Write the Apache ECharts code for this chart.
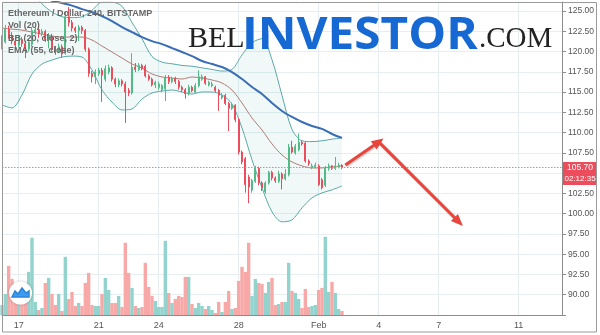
<!DOCTYPE html>
<html><head><meta charset="utf-8">
<script src="https://cdn.jsdelivr.net/npm/echarts@6/dist/echarts.min.js"></script>
<style>html,body{margin:0;padding:0;background:#fff}#c{width:600px;height:335px}</style>
</head><body><div id="c"></div>
<script>
// ---- time slots (4h candles), Jan 16 04:00 .. Feb 13 04:00 (2019)
const slotStart = Date.UTC(2019, 0, 16, 4);
const slotCount = 169;
const tickCats  = ['01-17 00','01-21 00','01-24 00','01-28 00','02-01 00','02-04 00','02-07 00','02-11 00'];
const tickTexts = ['17','21','24','28','Feb','4','7','11'];
const priceTicks = [90,92.5,95,97.5,100,102.5,105,107.5,110,112.5,115,117.5,120,122.5,125];

// ---- candles (ETH/USD, 240)
const open = [120.6,121.2,122.8,122.0,121.3,120.8,121.5,121.0,120.3,120.9,
122.4,122.7,122.2,122.5,121.5,121.8,120.3,120.0,120.6,119.8,
124.3,123.6,122.9,122.6,123.0,122.6,120.3,117.3,116.9,117.3,
117.7,116.6,117.5,118.0,116.6,115.9,116.4,116.0,115.2,114.9,
118.1,117.8,118.3,118.2,117.0,116.6,115.9,115.6,115.3,115.4,
116.8,116.3,116.7,116.3,115.6,115.3,114.8,115.6,115.0,115.8,
116.6,116.9,115.9,115.8,115.6,115.2,114.3,114.6,113.6,113.0,
113.4,111.6,107.6,106.8,104.5,102.9,104.0,105.6,103.8,102.7,
103.8,105.1,104.4,104.0,104.9,104.3,104.8,108.2,107.5,107.9,
108.8,108.7,106.5,105.7,105.8,105.9,104.2,103.5,105.6,105.9,
105.6,105.8,106.0];
const close = [121.4,122.8,122.0,121.3,120.8,121.5,121.0,120.3,121.2,122.6,
122.7,122.2,122.5,121.5,121.9,120.3,120.0,120.6,119.7,124.3,
123.6,122.9,122.6,123.0,122.6,120.3,117.3,116.9,117.5,117.7,
117.1,117.9,118.0,116.6,116.0,116.4,116.0,115.0,114.9,118.1,
117.8,118.3,117.9,117.0,116.6,115.9,116.2,116.0,115.8,116.8,
116.3,116.7,116.3,115.6,115.3,114.8,115.6,115.2,115.8,116.9,
116.9,116.1,116.2,116.0,115.2,114.6,114.6,113.6,113.0,113.4,
111.6,107.6,106.4,103.6,103.3,104.1,105.6,103.8,103.2,103.8,
105.1,104.4,104.1,104.9,104.3,104.9,108.2,107.6,108.3,108.8,
108.6,106.5,106.2,105.9,106.0,103.6,103.2,105.6,105.9,105.6,
105.9,106.0,105.7];
const high = [122.0,123.3,123.2,122.4,121.7,121.9,121.8,121.3,121.6,123.0,
123.0,122.9,122.8,122.7,122.3,122.2,120.7,121.0,120.9,124.9,
125.5,123.9,123.1,123.3,123.2,122.8,120.5,117.6,117.8,118.0,
118.0,118.3,118.4,118.2,116.8,116.7,116.6,116.3,115.5,119.8,
118.6,118.6,118.5,118.4,117.2,116.8,116.4,116.3,116.0,117.1,
117.1,116.9,116.9,116.5,115.8,115.5,115.9,115.8,116.1,117.7,
117.2,117.0,116.4,116.3,115.8,115.4,114.9,114.8,113.8,113.7,
113.5,111.8,107.8,107.0,104.8,104.3,105.9,105.8,104.0,104.0,
105.3,105.3,104.6,105.3,105.1,105.5,108.6,109.0,108.6,109.9,
109.0,108.9,106.7,106.2,106.3,106.1,104.4,105.9,106.2,106.0,
107.0,106.3,106.1];
const low = [120.3,121.0,121.6,120.9,120.2,120.5,120.6,119.2,120.0,120.6,
122.1,121.7,121.9,121.2,120.4,120.0,119.6,119.8,119.3,119.6,
123.1,122.5,122.3,121.3,122.2,120.0,116.9,116.2,116.0,117.0,
113.8,116.3,117.2,116.3,115.6,115.6,115.7,111.2,114.5,114.7,
117.5,117.6,117.7,116.8,116.4,115.7,115.5,115.3,115.0,113.9,
116.0,116.1,116.0,115.3,115.0,114.2,114.6,115.0,114.8,115.6,
116.4,115.9,115.7,115.6,115.0,112.7,114.1,113.4,110.2,112.8,
111.3,107.3,106.1,102.6,101.3,102.6,103.8,103.5,102.8,102.5,
103.6,104.1,103.8,103.8,103.0,104.1,104.6,107.4,107.3,107.7,
108.4,106.3,105.9,105.5,105.6,103.4,103.0,103.3,105.3,105.4,
105.4,105.6,105.5];
const volume = [10,21,49,36,20,15,12,15,43,77, 13,5,7,32,37,21,10,21,4,58,
16,23,9,12,9,32,42,10,9,9, 21,37,25,12,12,19,8,72,42,27,
9,7,8,52,28,19,14,8,8,74, 22,12,16,19,18,38,38,11,7,12,
9,6,9,5,2,13,3,13,24,6, 7,34,48,43,72,19,36,32,31,22,
33,37,10,11,13,13,52,24,22,16, 7,26,8,9,10,25,27,78,23,33,
22,6,4];

const bandIdx = [0,3,6,9,12,15,18,21,24,27,30,33,36,39,42,45,48,51,54,57,60,63,66,69,72,75,78,81,84,87,90,93,96,99,102];
const bbUpper = [132.4,132.5,130.7,127.6,125.9,124.9,124.3,124.2,124.3,125.1,126.1,126.1,125.6,123.6,121.6,119.4,118.7,118.5,118.3,118.2,118.0,117.8,117.6,117.8,119.6,121.1,121.6,119.0,114.6,110.4,109.0,108.9,109.0,109.2,109.35];
const bbBasis = [122.90,122.78,122.66,122.41,122.17,121.92,121.80,121.80,121.80,121.43,120.69,119.95,119.21,118.47,117.98,117.24,116.87,116.74,116.62,116.87,116.74,116.50,116.13,115.26,113.66,111.81,110.33,108.61,107.25,106.39,105.90,105.65,105.65,105.77,105.90];
const bbLower = [113.42,113.05,114.65,117.24,118.47,118.96,119.33,119.45,119.33,117.73,115.26,113.78,112.80,112.92,114.15,114.89,115.14,115.26,115.02,114.77,115.02,115.02,114.65,113.54,110.58,106.64,103.19,100.23,99.00,99.24,100.72,101.95,102.57,102.94,103.43];
const ema55   = [127.96,127.59,127.28,126.97,126.60,126.29,125.99,125.68,125.25,124.88,124.38,123.77,123.03,122.41,121.80,121.30,120.93,120.44,119.95,119.45,118.84,118.47,118.10,117.48,116.62,115.63,114.77,113.66,112.68,111.94,111.32,110.83,110.46,109.84,109.35];

// ---- annotations
const lastPrice = 105.70;
const lastPriceText = '105.70';
const countdownText = '02:12:35';
const arrowIdx   = [103, 113, 137];
const arrowPrice = [106.0, 108.86, 99.0];
const legendLines = ['Ethereum / Dollar, 240, BITSTAMP','Vol (20)','BB (20, close, 2)','EMA (55, close)'];

// ---- build
const pad = n => String(n).padStart(2,'0');
const cats = [];
for (let k = 0; k < slotCount; k++) {
  const d = new Date(slotStart + k * 4 * 3600 * 1000);
  cats.push(pad(d.getUTCMonth()+1) + '-' + pad(d.getUTCDate()) + ' ' + pad(d.getUTCHours()));
}
const tickMap = {}; tickCats.forEach((c,i)=>tickMap[c]=tickTexts[i]);
const isTick = (i, v) => tickMap[v] !== undefined;

const UP = '#53b987', DOWN = '#eb4d5c';
const candleData = open.map((o,i)=>[o, close[i], low[i], high[i]]);
const volData = volume.map((v,i)=>({value:v, itemStyle:{color: close[i] >= open[i] ? '#92d3cd' : '#f7a9a8'}}));
const pairs = arr => bandIdx.map((ix,k)=>[ix, arr[k]]);
const bandWidthData = bandIdx.map((ix,k)=>[ix, bbUpper[k]-bbLower[k]]);
const maxVol = Math.max.apply(null, volume);

const chart = echarts.init(document.getElementById('c'), null, {renderer:'canvas'});
const option = {
  animation: false,
  grid: {left:2, right:38, top:2, bottom:20, containLabel:false},
  xAxis: {
    type:'category', data:cats, boundaryGap:false,
    axisLine:{show:true, lineStyle:{color:'#8c8c8c'}},
    axisTick:{show:false},
    axisLabel:{interval:isTick, formatter:v=>tickMap[v]||'', color:'#555', fontSize:9, margin:6, fontFamily:'Liberation Sans'},
    splitLine:{show:true, interval:isTick, lineStyle:{color:'#e6eef2', width:1}}
  },
  yAxis: [{
    type:'value', position:'right', min:87.5, max:126.125, interval:2.5,
    axisLine:{show:true, lineStyle:{color:'#8c8c8c'}},
    axisTick:{show:true, length:4, lineStyle:{color:'#8c8c8c'}},
    axisLabel:{color:'#555', fontSize:8.5, margin:6, fontFamily:'Liberation Sans',
      formatter:v=> priceTicks.some(t=>Math.abs(t-v)<1e-6) ? v.toFixed(2) : ''},
    splitLine:{show:true, lineStyle:{color:'#e6eef2'}}
  },{
    type:'value', min:0, max:maxVol*4, show:false, splitLine:{show:false}
  }],
  series: [
    {type:'line', data:pairs(bbLower), stack:'bb', smooth:0.3, symbol:'none', lineStyle:{opacity:0}, silent:true, z:1},
    {type:'line', data:bandWidthData, stack:'bb', smooth:0.3, symbol:'none', lineStyle:{opacity:0}, areaStyle:{color:'rgba(38,166,154,0.07)', opacity:1}, silent:true, z:1},
    {type:'bar', data:volData, yAxisIndex:1, barWidth:3.4, silent:true, z:2},
    {type:'line', data:pairs(bbUpper), smooth:0.3, symbol:'none', lineStyle:{color:'#5aa9a6', width:1}, silent:true, z:3},
    {type:'line', data:pairs(bbLower), smooth:0.3, symbol:'none', lineStyle:{color:'#5aa9a6', width:1}, silent:true, z:3},
    {type:'line', data:pairs(bbBasis), smooth:0.3, symbol:'none', lineStyle:{color:'#b07a74', width:1}, silent:true, z:3},
    {type:'candlestick', data:candleData, barWidth:1.6, silent:true, z:4,
      itemStyle:{color:UP, color0:DOWN, borderColor:UP, borderColor0:DOWN, borderWidth:1},
      markLine:{silent:true, symbol:'none', label:{show:false},
        lineStyle:{color:'#f07a86', type:[1.5,1.5], width:1}, data:[{yAxis:lastPrice}]}},
    {type:'line', data:pairs(ema55), smooth:0.3, symbol:'none', lineStyle:{color:'#3a6db5', width:2}, silent:true, z:5,
      markLine:{silent:true, symbol:['none','triangle'], symbolSize:[10,12], label:{show:false},
        lineStyle:{color:'#e8453c', width:3, type:'solid', shadowColor:'rgba(0,0,0,0.25)', shadowBlur:2, shadowOffsetX:1, shadowOffsetY:1},
        data:[[{coord:[arrowIdx[0], arrowPrice[0]]},{coord:[arrowIdx[1], arrowPrice[1]]}],
              [{coord:[arrowIdx[1], arrowPrice[1]]},{coord:[arrowIdx[2], arrowPrice[2]]}]]}}
  ]
};
chart.setOption(option);

const py = chart.convertToPixel({yAxisIndex:0}, lastPrice);
const graphics = [];
legendLines.forEach((t,i)=>graphics.push({type:'text', x:8, y:13.5 + i*12.5, z:20,
  style:{text:t, font:'bold 9px "Liberation Sans"', fill:'#666', textVerticalAlign:'middle'}}));
graphics.push({type:'text', x:188, y:54, z:20, style:{text:'BEL', font:'30px "Liberation Serif"', fill:'#222', textVerticalAlign:'bottom'}});
graphics.push({type:'text', x:242, y:59, scaleX:1.06, z:20, style:{text:'INVESTOR', font:'bold 45px "Open Sans"', fill:'#1668d2', textVerticalAlign:'bottom'}});
graphics.push({type:'text', x:479, y:54, z:20, style:{text:'.COM', font:'29px "Liberation Serif"', fill:'#222', textVerticalAlign:'bottom'}});
// price tag
graphics.push({type:'rect', z:30, shape:{x:563, y:py-5.5, width:34, height:23}, style:{fill:DOWN}});
graphics.push({type:'text', z:31, x:567, y:py, style:{text:lastPriceText, font:'8.5px "Liberation Sans"', fill:'#fff', textVerticalAlign:'middle'}});
graphics.push({type:'text', z:31, x:564.5, y:py+11.5, style:{text:countdownText, font:'8px "Liberation Sans"', fill:'#fff', textVerticalAlign:'middle'}});
// tradingview badge
graphics.push({type:'circle', z:30, shape:{cx:20.5, cy:293, r:11.5}, style:{fill:'#fff', shadowBlur:3, shadowColor:'rgba(0,0,0,0.25)'}});
graphics.push({type:'polygon', z:31, shape:{points:[[12,297],[15,291],[18,294],[22,288],[26,293],[29,291],[29,297]]}, style:{fill:'#3d9bf0', stroke:'#2b86d9', lineWidth:1.5}});
// frame
graphics.push({type:'rect', z:40, shape:{x:2.5, y:2.5, width:594, height:329.5}, style:{fill:'none', stroke:'#9a9a9a', lineWidth:1}});
chart.setOption({graphic: graphics});
</script>
</body></html>
